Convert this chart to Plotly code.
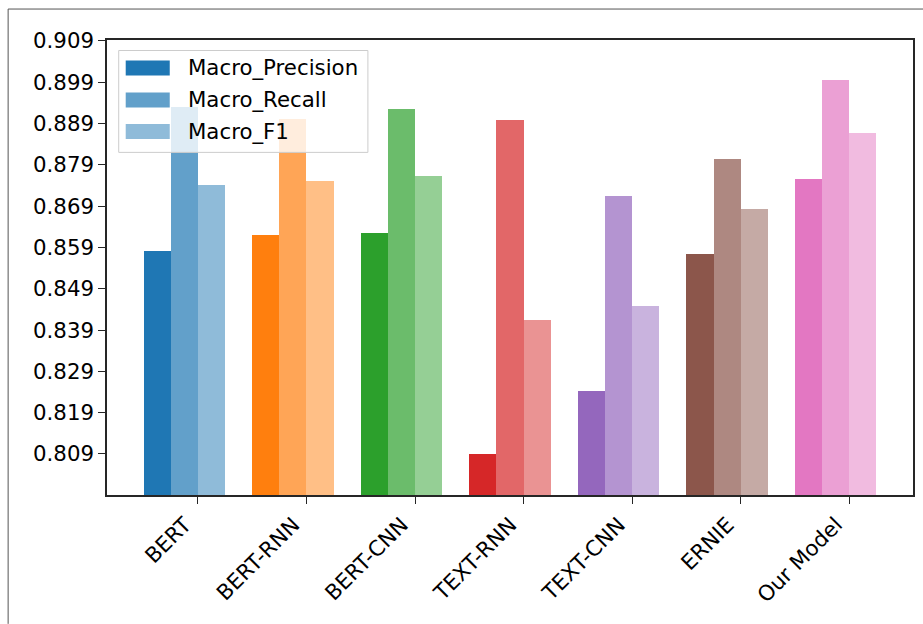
import plotly.graph_objects as go

# ---------------- data ----------------
categories = ["BERT", "BERT-RNN", "BERT-CNN", "TEXT-RNN", "TEXT-CNN", "ERNIE", "Our Model"]
series_names = ["Macro_Precision", "Macro_Recall", "Macro_F1"]
macro_precision = [0.8582, 0.8620, 0.8626, 0.8089, 0.8242, 0.8574, 0.8756]
macro_recall = [0.8929, 0.8901, 0.8926, 0.8898, 0.8715, 0.8804, 0.8996]
macro_f1 = [0.8741, 0.8752, 0.8763, 0.8415, 0.8449, 0.8682, 0.8867]
ytick_values = [0.809, 0.819, 0.829, 0.839, 0.849, 0.859, 0.869, 0.879, 0.889, 0.899, 0.909]

# ---------------- style ----------------
W, H = 923, 624
ML, MR, MT, MB = 107.3, 923 - 912.7, 39.5, 624 - 495
FONT = "DejaVu Sans"
FS = 21.3
tab10 = ["#1f77b4", "#ff7f0e", "#2ca02c", "#d62728", "#9467bd", "#8c564b", "#e377c2"]
alphas = [1.0, 0.7, 0.5]
BAR_W = 0.25
offsets = [-0.5, -0.25, 0.0]


def rgba(hexc, a):
    h = hexc.lstrip("#")
    r, g, b = int(h[0:2], 16), int(h[2:4], 16), int(h[4:6], 16)
    return f"rgba({r},{g},{b},{a})"


def pxx(p):  # page pixel -> paper x
    return (p - ML) / (W - ML - MR)


def pyy(p):  # page pixel -> paper y
    return (H - MB - p) / (H - MT - MB)


fig = go.Figure()
xs = list(range(len(categories)))
for name, vals, a, off in zip(series_names, [macro_precision, macro_recall, macro_f1], alphas, offsets):
    fig.add_trace(go.Bar(
        x=xs, y=vals, name=name, width=BAR_W, offset=off,
        marker=dict(color=[rgba(c, a) for c in tab10], line=dict(width=0)),
        showlegend=False,
    ))

# ---------------- legend (drawn manually, matplotlib-like) ----------------
shapes = []
annotations = []
shapes.append(dict(type="rect", xref="paper", yref="paper",
                   x0=pxx(119), x1=pxx(368), y0=pyy(152), y1=pyy(50),
                   fillcolor="rgba(255,255,255,0.8)", line=dict(color="#cccccc", width=1),
                   layer="above"))
row_top = [60, 92, 123.7]
for i, (name, a) in enumerate(zip(series_names, alphas)):
    shapes.append(dict(type="rect", xref="paper", yref="paper",
                       x0=pxx(126), x1=pxx(170), y0=pyy(row_top[i] + 15), y1=pyy(row_top[i]),
                       fillcolor=rgba(tab10[0], a), line=dict(width=0), layer="above"))
    annotations.append(dict(xref="paper", yref="paper", x=pxx(186), y=pyy(row_top[i] + 7.5),
                            text=name, showarrow=False, xanchor="left", yanchor="middle",
                            font=dict(family=FONT, size=FS, color="#000000")))

# outer screenshot border (left and top)
shapes.append(dict(type="line", xref="paper", yref="paper",
                   x0=pxx(8.5), x1=pxx(8.5), y0=pyy(H), y1=pyy(8.5),
                   line=dict(color="#555555", width=1)))
shapes.append(dict(type="line", xref="paper", yref="paper",
                   x0=pxx(8.5), x1=pxx(W), y0=pyy(8.5), y1=pyy(8.5),
                   line=dict(color="#555555", width=1)))

fig.update_layout(
    width=W, height=H,
    margin=dict(l=ML, r=MR, t=MT, b=MB, pad=0, autoexpand=False),
    paper_bgcolor="white", plot_bgcolor="white",
    barmode="overlay", bargap=0,
    font=dict(family=FONT, size=FS, color="#000000"),
    shapes=shapes, annotations=annotations,
    xaxis=dict(
        range=[-0.8375, 6.5875], tickmode="array", tickvals=xs, ticktext=categories,
        tickangle=-45, showgrid=False, zeroline=False, automargin=False,
        showline=True, mirror=True, linecolor="#262626", linewidth=1.5,
        ticks="outside", ticklen=7, tickwidth=1.4, tickcolor="#262626",
        ticklabelshift=-13,
        tickfont=dict(family=FONT, size=FS, color="#000000"),
    ),
    yaxis=dict(
        range=[0.79907, 0.90924], tickmode="array", tickvals=ytick_values,
        ticktext=[f"{v:.3f}" for v in ytick_values],
        showgrid=False, zeroline=False, automargin=False,
        showline=True, mirror=True, linecolor="#262626", linewidth=1.5,
        ticks="outside", ticklen=7, tickwidth=1.4, tickcolor="#262626",
        tickfont=dict(family=FONT, size=FS, color="#000000"),
    ),
)

fig.write_html(
    "out.html",
    config={"displayModeBar": False},
    post_script="document.body.style.margin='0';document.body.style.overflow='hidden';",
)
